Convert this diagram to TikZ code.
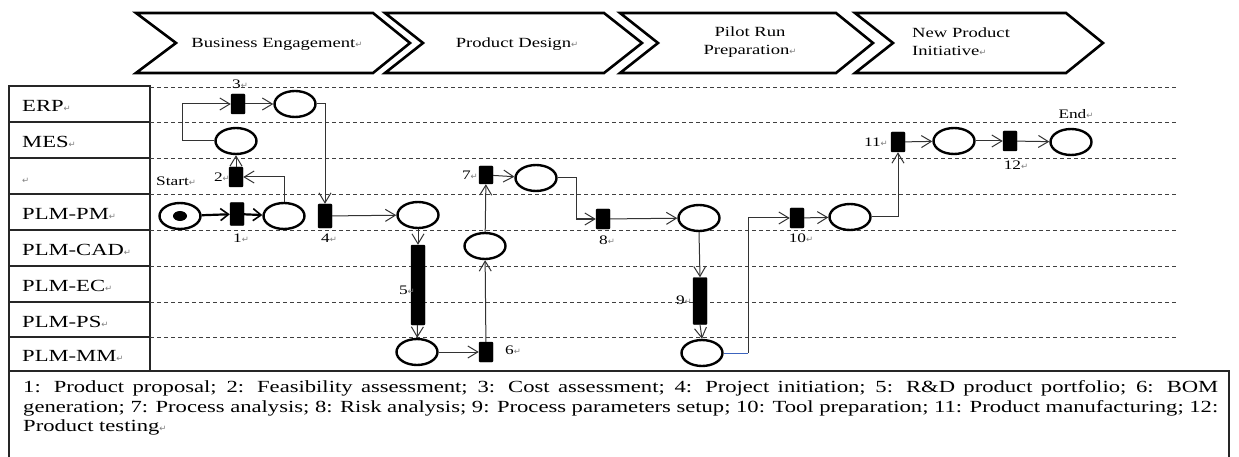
\documentclass[tikz,border=0pt]{standalone}
\usepackage{fontspec}
\setmainfont{Liberation Serif}[FakeStretch=1.33]
\newfontfamily\retfont{DejaVu Sans}
\usetikzlibrary{shapes.geometric,arrows.meta}
\newcommand{\rt}{{\retfont\fontsize{8.5}{8.5}\selectfont\textcolor{black!50}{↵}}}
\begin{document}
\begin{tikzpicture}[x=1pt,y=-1pt,
  place/.style={ellipse, draw=black, line width=2.4pt, minimum width=41pt, minimum height=26pt, inner sep=0pt},
  trans/.style={rectangle, fill=black, draw=black, rounded corners=1pt, minimum width=14pt, minimum height=20pt, inner sep=0pt},
  arc/.style={draw=black!80, line width=1pt, -{Straight Barb[length=10pt,width=12pt,line width=1pt]}},
  thickarc/.style={draw=black, line width=2.2pt, -{Straight Barb[length=8pt,width=12pt,line width=1.6pt]}},
  lane/.style={anchor=base west, font=\fontsize{17}{19.5}\selectfont, inner sep=0pt},
  lbl/.style={font=\fontsize{13}{15}\selectfont, inner sep=0pt},
  chev/.style={draw=black, line width=2.6pt, line join=miter},
  ctext/.style={font=\fontsize{14}{18}\selectfont, inner sep=0pt},
  laneline/.style={draw=black!75, line width=0.9pt, dash pattern=on 4pt off 3pt},
  boxline/.style={draw=black!85, line width=1.3pt},
  blueline/.style={draw={rgb,255:red,60;green,100;blue,190}, line width=1pt}
]
\useasboundingbox (0,0) rectangle (1239,457);
\fill[white] (0,0) rectangle (1239,457);

% phase chevrons
\draw[chev] (136,13) -- (373,13) -- (410,43) -- (373,73) -- (136,73) -- (176,43) -- cycle;
\draw[chev] (385,13) -- (604,13) -- (642,43) -- (604,73) -- (385,73) -- (423,43) -- cycle;
\draw[chev] (620,13) -- (836,13) -- (873,43) -- (836,73) -- (620,73) -- (658,43) -- cycle;
\draw[chev] (855,13) -- (1066,13) -- (1103,43) -- (1066,73) -- (855,73) -- (893,43) -- cycle;
\node[ctext] (ph1) at (277,44) {Business Engagement\rt};
\node[ctext] (ph2) at (517,44) {Product Design\rt};
\node[ctext, align=center] (ph3) at (750,42) {Pilot Run\\Preparation\rt};
\node[ctext, align=left, anchor=west] (ph4) at (912,42) {New Product\\Initiative\rt};

% lane label box
\draw[boxline] (9,86) rectangle (150,371);
\foreach \yy in {122,158,194,230,266,302,337} \draw[boxline] (9,\yy) -- (150,\yy);
\foreach \yy in {87,122,158,194,230,266,302,337} \draw[laneline] (150,\yy) -- (1178,\yy);

\node[lane] (l1) at (22,111.5) {ERP\rt};
\node[lane] (l2) at (22,147.5) {MES\rt};
\node[lane] (l3) at (22,183.5) {\rt};
\node[lane] (l4) at (22,219.5) {PLM-PM\rt};
\node[lane] (l5) at (22,255.5) {PLM-CAD\rt};
\node[lane] (l6) at (22,291.5) {PLM-EC\rt};
\node[lane] (l7) at (22,327) {PLM-PS\rt};
\node[lane] (l8) at (22,361.5) {PLM-MM\rt};

% legend box
\draw[boxline] (9,458) -- (9,371) -- (1229,371) -- (1229,458);
\node[anchor=north west, inner sep=0pt, font=\fontsize{17}{19.5}\selectfont, align=left] (legend) at (23,380.5)
{\makebox[1195pt][s]{1: Product proposal; 2: Feasibility assessment; 3: Cost assessment; 4: Project initiation; 5: R\&D product portfolio; 6: BOM}\\
\makebox[1195pt][s]{generation; 7: Process analysis; 8: Risk analysis; 9: Process parameters setup; 10: Tool preparation; 11: Product manufacturing; 12:}\\
Product testing\rt};

% places
\node[place] (S0) at (180,216) {};
\node[ellipse, fill=black, minimum width=14pt, minimum height=10pt, inner sep=0pt] (dot) at (180,216) {};
\node[place] (P1) at (284,216) {};
\node[place] (P2) at (236,141) {};
\node[place] (P3) at (295,104) {};
\node[place] (P4) at (418,215) {};
\node[place] (P5) at (417,352) {};
\node[place] (P6) at (485,246) {};
\node[place] (P7) at (536,178) {};
\node[place] (P8) at (699,218) {};
\node[place] (P9) at (702,353) {};
\node[place] (P10) at (850,217) {};
\node[place] (P11) at (954,141) {};
\node[place] (P12) at (1071,142) {};

% transitions
\node[trans, minimum height=23pt] (T1) at (237,214) {};
\node[trans] (T2) at (236,177) {};
\node[trans] (T3) at (238,104) {};
\node[trans, minimum height=24pt] (T4) at (325,216) {};
\node[trans, minimum height=80pt] (T5) at (418,285) {};
\node[trans] (T6) at (486,352) {};
\node[trans, minimum height=18pt] (T7) at (486,175) {};
\node[trans] (T8) at (603,219) {};
\node[trans, minimum height=47pt] (T9) at (700,301) {};
\node[trans] (T10) at (797,218) {};
\node[trans] (T11) at (898,142) {};
\node[trans] (T12) at (1010,141) {};

% labels
\node[lbl, anchor=west] (start) at (156,181) {Start\rt};
\node[lbl] (n1) at (241,238) {1\rt};
\node[lbl, anchor=east] (n2) at (230,177) {2\rt};
\node[lbl] (n3) at (240,84) {3\rt};
\node[lbl] (n4) at (329,238) {4\rt};
\node[lbl, anchor=east] (n5) at (415,290) {5\rt};
\node[lbl, anchor=west] (n6) at (505,350) {6\rt};
\node[lbl, anchor=east] (n7) at (478,175) {7\rt};
\node[lbl] (n8) at (607,240) {8\rt};
\node[lbl, anchor=east] (n9) at (692,300) {9\rt};
\node[lbl] (n10) at (801,238) {10\rt};
\node[lbl, anchor=east] (n11) at (888,142) {11\rt};
\node[lbl] (n12) at (1016,165) {12\rt};
\node[lbl] (nend) at (1076,114) {End\rt};

% bend coordinates
\coordinate (b5) at (182,141);
\coordinate (b15) at (576,178);
\coordinate (b19) at (748,353);

% arcs
\draw[thickarc] (S0) -- (T1);
\draw[thickarc] (T1) -- (P1);
\draw[arc] (P1.north) |- (T2.east);
\draw[arc] (T2) -- (P2);
\draw[arc] (P2.west) -- (b5) |- (T3.west);
\draw[arc] (T3) -- (P3);
\draw[arc] (P3.east) -| (T4.north);
\draw[arc] (T4) -- (P4);
\draw[arc] (P4) -- (T5);
\draw[arc] (T5) -- (P5);
\draw[arc] (P5) -- (T6);
\draw[arc] (T6) -- (P6);
\draw[arc] (P6) -- (T7);
\draw[arc] (T7) -- (P7);
\draw[arc] (P7.east) -- (b15) |- (T8.west);
\draw[arc] (T8) -- (P8);
\draw[arc] (P8.south) -- (T9.north);
\draw[arc] (T9.south) -- (P9.north);
\draw[blueline] (P9.east) -- (b19);
\draw[arc] (b19) |- (T10.west);
\draw[arc] (T10) -- (P10);
\draw[arc] (P10.east) -| (T11.south);
\draw[arc] (T11) -- (P11);
\draw[arc] (P11) -- (T12);
\draw[arc] (T12) -- (P12);
\end{tikzpicture}
\end{document}
